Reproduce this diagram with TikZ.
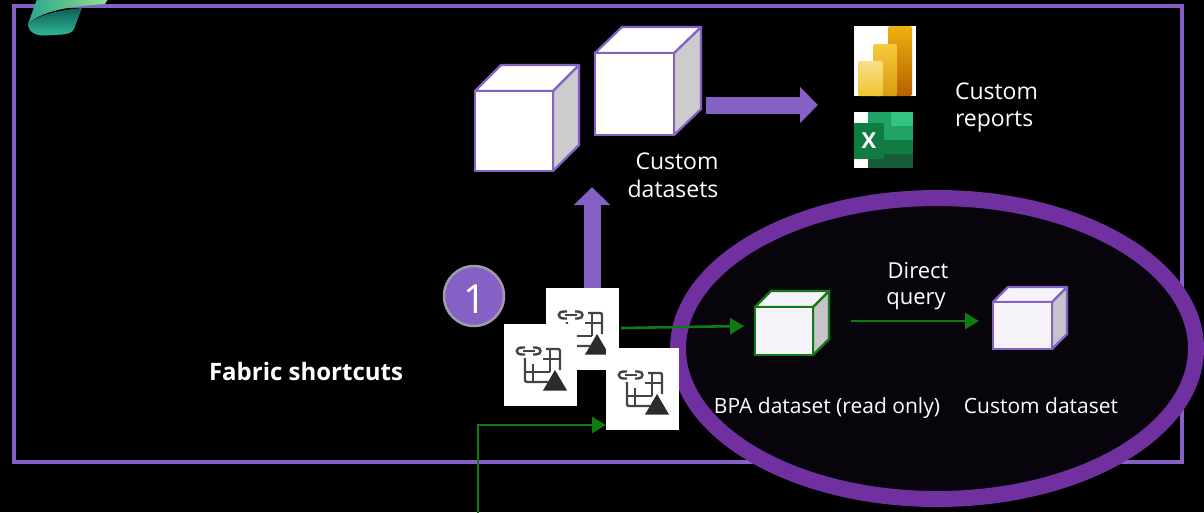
\documentclass[tikz,border=0pt]{standalone}
\usepackage{fontspec}
\setmainfont{Open Sans}
\usetikzlibrary{arrows.meta,shapes.geometric}
\definecolor{fpurple}{HTML}{8661C5}
\definecolor{ringpurple}{HTML}{7030A0}
\definecolor{ringfill}{HTML}{07050B}
\definecolor{fgreen}{HTML}{107C10}
\definecolor{icongrey}{HTML}{444444}
\definecolor{tridark}{HTML}{2B2B2B}
\definecolor{sidegrey}{HTML}{CCCCCC}
\definecolor{sidegreyb}{HTML}{C6C4CA}
\definecolor{facetint}{HTML}{F6F4FA}
\definecolor{badgeedge}{HTML}{A29CAA}
\tikzset{
  every node/.style={inner sep=0pt,outer sep=0pt},
  lbl/.style={text=white,font=\fontsize{23}{28}\selectfont,text height=17pt,text depth=5pt},
  sublbl/.style={text=white,font=\fontsize{21}{26}\selectfont,text height=16pt,text depth=5pt},
  iconbox/.style={fill=white,minimum width=73pt,minimum height=82pt},
  greenarrow/.style={draw=fgreen,line width=2.6pt,-{Triangle[length=14pt,width=16pt]}},
  bigarrow/.style={draw=fpurple,line width=17pt,-{Triangle[length=18pt,width=35pt]}},
}
\newcommand{\cubeshape}[9]{%
  \filldraw[draw=#8,fill=#9,line width=\cubelw,line join=round] (#4,#3) -- (#6,#7) -- ({#6},{#5-#3+#7}) -- (#4,#5) -- cycle;
  \filldraw[draw=#8,fill=\cubetop,line width=\cubelw,line join=round] (#2,#3) -- ({#2+#6-#4},#7) -- (#6,#7) -- (#4,#3) -- cycle;
  \node[draw=#8,fill=\cubetop,line width=\cubelw,minimum width={(#4-#2)*1pt},minimum height={(#5-#3)*1pt}] (#1) at ({(#2+#4)/2},{(#3+#5)/2}) {};
}
\newcommand{\linkicon}[1]{%
  \begin{scope}[shift={(#1)},draw=icongrey,line width=2.4pt]
    \draw (21,23.5) -- (18,23.5) .. controls (11,23.5) and (11,30.5) .. (18,30.5) -- (21,30.5);
    \draw (29,23.5) -- (32,23.5) .. controls (38,23.5) and (38,30.5) .. (32,30.5) -- (29,30.5);
    \draw (19,27) -- (31,27);
    \draw[rounded corners=2pt] (21,34) -- (21,58) -- (44,58);
    \draw (21,48) -- (46,48);
    \draw (29,40) -- (29,58);
    \draw[rounded corners=2pt] (42,25) -- (56,25) -- (56,46);
    \draw (46,25) -- (46,48);
    \draw (39,35) -- (56,35);
    \fill[tridark] (51,46) -- (63,66.5) -- (39,66.5) -- cycle;
  \end{scope}
}
\begin{document}
\begin{tikzpicture}[x=1pt,y=-1pt]
\useasboundingbox (0,0) rectangle (1204,512);
\fill[black] (0,0) rectangle (1204,512);
\begin{scope}
\clip (0,0) rectangle (1204,512);
\node[draw=fpurple,line width=3.5pt,minimum width=1168pt,minimum height=456pt] (frame) at (598,234) {};
\definecolor{la}{HTML}{0F5E56}\definecolor{lb}{HTML}{30B898}\definecolor{lc}{HTML}{2AA58E}\definecolor{ld}{HTML}{92E08E}
\path[top color=la,bottom color=lb]
  (28,24) .. controls (40,14) and (60,10) .. (82,8) -- (74,29) .. controls (72,33) and (68,34) .. (62,34.5) -- (45,35.5) .. controls (36,36) and (28,32) .. (28,24) -- cycle;
\path[left color=lc,right color=ld]
  (37,-1) -- (108,-1) -- (105,4) .. controls (80,6) and (45,8) .. (28,24) -- cycle;
\node[ellipse,draw=ringpurple,fill=ringfill,line width=16pt,minimum width=518pt,minimum height=301pt] (ring) at (937,348.5) {};
\end{scope}
\def\cubelw{2.2pt}\def\cubetop{white}
\cubeshape{cubeA}{475}{91}{553}{171}{579}{65}{fpurple}{sidegrey}
\cubeshape{cubeB}{595}{53}{674}{135}{701}{27}{fpurple}{sidegrey}
\def\cubetop{facetint}
\cubeshape{cubeC}{755}{307}{813}{355}{829}{291}{fgreen}{sidegreyb}
\cubeshape{cubeD}{993}{302}{1052}{349}{1067}{287}{fpurple}{sidegreyb}
\coordinate (upstart) at (592,292);
\coordinate (uptip) at (592,187);
\draw[bigarrow] (upstart) -- (uptip);
\node[iconbox,anchor=north west] (s1) at (546,288) {};
\linkicon{546,288}
\node[iconbox,anchor=north west] (s2) at (504,324) {};
\linkicon{504,324}
\node[iconbox,anchor=north west] (s3) at (606,348) {};
\linkicon{606,348}
\coordinate (rstart) at (706,105);
\coordinate (rtip) at (818,105);
\draw[bigarrow] (rstart) -- (rtip);
\node[circle,draw=badgeedge,fill=fpurple,line width=2.5pt,minimum size=60pt,text=white,font=\fontsize{40}{40}\selectfont] (badge) at (474,296) {};
\node[text=white,font=\fontsize{40}{40}\selectfont] (badgenum) at (475,299) {1};
\coordinate (g1a) at (621,328);
\coordinate (g1b) at (744,326);
\draw[greenarrow] (g1a) -- (g1b);
\coordinate (g2a) at (851,321);
\coordinate (g2b) at (979,321);
\draw[greenarrow] (g2a) -- (g2b);
\coordinate (g3a) at (478,514);
\coordinate (g3b) at (606,425);
\draw[greenarrow] (g3a) |- (g3b);
% Power BI
\definecolor{pa}{HTML}{EDB10E}\definecolor{pb}{HTML}{B85F00}\definecolor{pc}{HTML}{F6CC3C}\definecolor{pd}{HTML}{D99A10}\definecolor{pe}{HTML}{F8E08A}\definecolor{pf}{HTML}{EFC22E}
\node[fill=white,anchor=north west,minimum width=62pt,minimum height=70pt] (pbi) at (854,26) {};
\path[rounded corners=2pt,top color=pa,bottom color=pb] (888,26) rectangle (912,96);
\path[rounded corners=2pt,top color=pc,bottom color=pd] (873,44) rectangle (897,96);
\path[rounded corners=2pt,top color=pe,bottom color=pf] (858,61) rectangle (883,96);
% Excel
\definecolor{xa}{HTML}{21A366}\definecolor{xb}{HTML}{33C481}\definecolor{xc}{HTML}{107C41}\definecolor{xd}{HTML}{185C37}
\node[fill=white,anchor=north west,minimum width=14pt,minimum height=56pt] (xl) at (854,112) {};
\fill[xa] (868,112) rectangle (891,126);
\fill[xb] (891,112) rectangle (913,126);
\fill[xa] (868,126) rectangle (913,140);
\fill[xc] (868,140) rectangle (913,154);
\fill[xd] (868,154) rectangle (913,168);
\node[fill=xc,text=white,font=\fontsize{22}{22}\selectfont\bfseries,minimum width=30pt,minimum height=36pt,anchor=north west] (xlx) at (854,123) {X};
% texts
\node[lbl,anchor=west] (t1a) at (955,93) {Custom};
\node[lbl,anchor=west] (t1b) at (955,120) {reports};
\node[lbl] (t2a) at (677,163.5) {Custom};
\node[lbl] (t2b) at (673,191.5) {datasets};
\node[lbl,font=\fontsize{24}{28}\selectfont\bfseries] (t3) at (306,374) {Fabric shortcuts};
\node[sublbl,font=\fontsize{22}{26}\selectfont] (t4a) at (918,273) {Direct};
\node[sublbl,font=\fontsize{22}{26}\selectfont] (t4b) at (916,299) {query};
\node[sublbl] (t5) at (827,408) {BPA dataset (read only)};
\node[sublbl] (t6) at (1041,408) {Custom dataset};
\end{tikzpicture}
\end{document}
